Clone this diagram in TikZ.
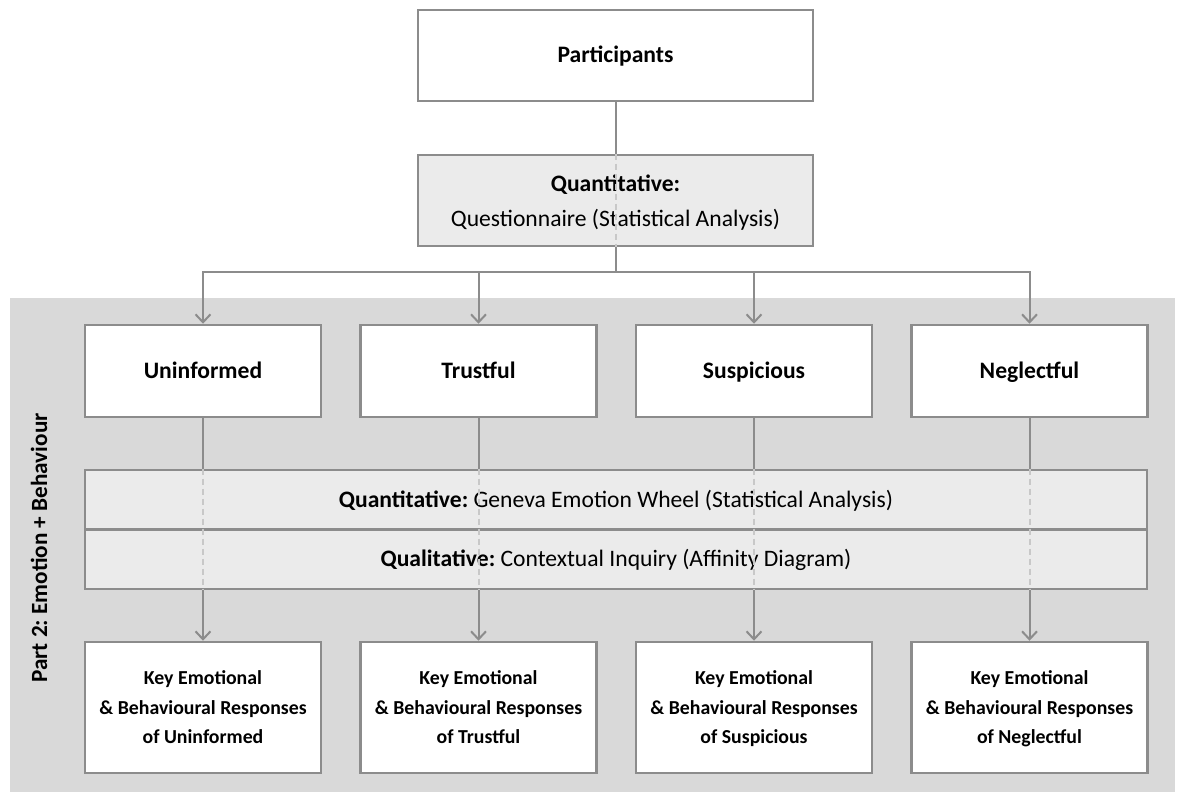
\documentclass[tikz,border=0pt]{standalone}
\usepackage{fontspec}
\setmainfont{Carlito}
\usetikzlibrary{arrows.meta}
\definecolor{edgegray}{HTML}{8C8C8C}
\definecolor{panelgray}{HTML}{D9D9D9}
\definecolor{lightfill}{HTML}{EBEBEB}
\definecolor{dashgray}{HTML}{C8C8C8}
\frenchspacing

\begin{document}
\begin{tikzpicture}[x=1pt,y=-1pt,
  box/.style={draw=edgegray, line width=2.5pt, fill=white, inner sep=0pt,
    minimum width=236pt, minimum height=92pt, align=center,
    text height=15pt, text depth=0pt,
    font=\fontsize{23.6}{35}\selectfont\bfseries},
  topbox/.style={box, minimum width=395pt, minimum height=91pt},
  methodbox/.style={draw=edgegray, line width=2.5pt, fill=lightfill, inner sep=0pt,
    minimum width=395pt, minimum height=91pt, align=center, text depth=-2pt,
    font=\fontsize{23.6}{35}\selectfont},
  bandrow/.style={draw=edgegray, line width=2.5pt, fill=lightfill, inner sep=0pt,
    minimum width=1062pt, minimum height=59.5pt,
    text height=15pt, text depth=0pt,
    font=\fontsize{23.6}{28}\selectfont},
  keybox/.style={draw=edgegray, line width=2.5pt, fill=white, inner sep=0pt,
    minimum width=236pt, minimum height=131pt, align=center, text depth=0pt,
    font=\fontsize{19.8}{29.5}\selectfont\bfseries},
  conn/.style={draw=edgegray, line width=2pt},
  arr/.style={conn, -{Straight Barb[length=8pt,width=15pt,line width=2pt]}},
  dashline/.style={draw=dashgray, line width=2pt, dash pattern=on 6pt off 4pt},
]
\useasboundingbox (0,0) rectangle (1180,794);

% shaded panel for part 2
\fill[panelgray] (10,298) rectangle (1175,792);
\node[rotate=90, font=\fontsize{23.2}{28}\selectfont\bfseries] (partlabel) at (39,548)
  {Part 2: Emotion + Behaviour};

% top of the tree
\node[topbox] (part) at (615.5,55.5) {Participants};
\node[methodbox] (quest) at (615.5,200.5) {\textbf{Quantitative:}\\Questionnaire (Statistical Analysis)};
\coordinate (hub) at (615.5,272);

% user groups
\node[box] (c1) at (203,371) {Uninformed};
\node[box] (c2) at (478.5,371) {Trustful};
\node[box] (c3) at (754,371) {Suspicious};
\node[box] (c4) at (1029.5,371) {Neglectful};

% methods band
\node[bandrow] (qn) at (616,499.5) {\textbf{Quantitative:} Geneva Emotion Wheel (Statistical Analysis)};
\node[bandrow] (ql) at (616,559) {\textbf{Qualitative:} Contextual Inquiry (Affinity Diagram)};

% outcomes
\node[keybox] (k1) at (203,707.5) {Key Emotional\\\& Behavioural Responses\\of Uninformed};
\node[keybox] (k2) at (478.5,707.5) {Key Emotional\\\& Behavioural Responses\\of Trustful};
\node[keybox] (k3) at (754,707.5) {Key Emotional\\\& Behavioural Responses\\of Suspicious};
\node[keybox] (k4) at (1029.5,707.5) {Key Emotional\\\& Behavioural Responses\\of Neglectful};

% connectors
\draw[conn] (part.south) -- (quest.north);
\draw[dashline] (quest.north) -- (quest.south);
\draw[conn] (quest.south) -- (hub);
\foreach \c in {c1,c2,c3,c4}
  \draw[arr] (hub) -| (\c.north);

\foreach \c/\k in {c1/k1,c2/k2,c3/k3,c4/k4}{
  \draw[conn] (\c.south) -- (\c.south |- qn.north);
  \draw[dashline] (\c.south |- qn.north) -- (\c.south |- ql.south);
  \draw[arr] (\c.south |- ql.south) -- (\k.north);
}
\end{tikzpicture}
\end{document}
